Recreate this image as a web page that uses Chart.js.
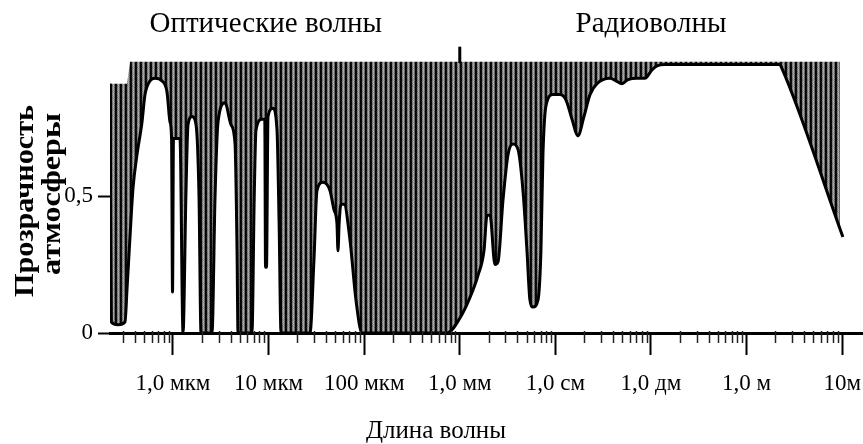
<!DOCTYPE html>
<html lang="ru">
<head>
<meta charset="utf-8">
<title>Прозрачность атмосферы</title>
<script src="https://cdn.jsdelivr.net/npm/chart.js@4.4.1/dist/chart.umd.min.js"></script>
<style>
  html, body { margin: 0; padding: 0; background: #fff; }
  #wrap { width: 863px; height: 444px; }
</style>
</head>
<body>
<div id="wrap"><canvas id="c" width="863" height="444"></canvas></div>
<script>
// Wavelength as log10(λ / 1 m): -6 = 1 мкм ... 1 = 10 м
const logWavelength = [
  -6.659, -6.645, -6.575, -6.502, -6.481, -6.450, -6.418, -6.377, -6.324, -6.293,
  -6.241, -6.188, -6.115, -6.063, -6.031, -6.015, -6.005, -5.995, -5.927, -5.895,
  -5.865, -5.843, -5.801, -5.759, -5.728, -5.707, -5.592, -5.560, -5.529, -5.456,
  -5.393, -5.351, -5.330, -5.320, -5.174, -5.150, -5.132, -5.069, -5.040, -5.032,
  -5.022, -5.006, -4.954, -4.912, -4.890, -4.870, -4.567, -4.525, -4.494, -4.431,
  -4.358, -4.316, -4.285, -4.274, -4.262, -4.243, -4.211, -4.149, -4.086, -4.023,
  -3.134, -2.998, -2.893, -2.810, -2.747, -2.715, -2.684, -2.632, -2.600, -2.548,
  -2.496, -2.444, -2.391, -2.339, -2.297, -2.266, -2.234, -2.182, -2.151, -2.130,
  -2.098, -2.025, -1.952, -1.889, -1.826, -1.764, -1.701, -1.638, -1.565, -1.429,
  -1.366, -1.303, -1.241, -1.146, -1.063, -0.990, -0.937, -0.854, 0.349, 0.362, 1.008
];
// Atmospheric transparency (0 … 1)
const transparency = [
  0.91, 0.04, 0.03, 0.04, 0.16, 0.35, 0.53, 0.65, 0.77, 0.87,
  0.92, 0.93, 0.92, 0.88, 0.77, 0.71, 0.15, 0.71, 0.71, 0.00,
  0.50, 0.76, 0.79, 0.76, 0.50, 0.00, 0.00, 0.50, 0.77, 0.84,
  0.76, 0.69, 0.30, 0.00, 0.00, 0.50, 0.74, 0.78, 0.78, 0.24,
  0.24, 0.79, 0.82, 0.74, 0.40, 0.00, 0.00, 0.27, 0.52, 0.55,
  0.52, 0.45, 0.40, 0.30, 0.40, 0.47, 0.47, 0.34, 0.12, 0.00,
  0.00, 0.055, 0.13, 0.21, 0.30, 0.43, 0.43, 0.25, 0.26, 0.485,
  0.65, 0.69, 0.67, 0.52, 0.30, 0.12, 0.095, 0.12, 0.30, 0.65,
  0.83, 0.87, 0.87, 0.85, 0.78, 0.72, 0.79, 0.87, 0.91, 0.93,
  0.92, 0.91, 0.925, 0.93, 0.93, 0.96, 0.975, 0.98, 0.98, 0.972, 0.35
];
// Upper edge of the hatched (absorption) band
const bandTopLog = [-6.659, -6.481, -6.450, 0.977];
const bandTopValue = [0.91, 0.91, 0.99, 0.99];

// Axis ticks
const xTickValues = [-6, -5, -4, -3, -2, -1, 0, 1];
const xTickLabels = ['1,0 мкм', '10 мкм', '100 мкм', '1,0 мм', '1,0 см', '1,0 дм', '1,0 м', '10м'];
const yTickValues = [0, 0.5];
const yTickLabels = ['0', '0,5'];

// Region captions
const regionLabels = ['Оптические волны', 'Радиоволны'];
const regionCenters = [-5.03, -1.0]; // in log10(λ) units
const xTitle = 'Длина волны';
const yTitle = ['Прозрачность', 'атмосферы'];

const SERIF = '"Liberation Serif", "Times New Roman", serif';

// vertical hatching pattern
function makeHatch() {
  const w = 5, h = 6;
  const c = document.createElement('canvas');
  c.width = w; c.height = h;
  const g = c.getContext('2d');
  const cols = [0, 10, 120, 165, 105];
  const speck = [
    [0, 0, 12, -10, 10, 0],
    [0, 6, -10, 18, -6, 8],
    [14, -18, 8, -6, 20, -12],
    [-16, 10, -22, 14, -8, 18],
    [8, -12, 16, -18, 6, -4]
  ];
  for (let x = 0; x < w; x++) {
    for (let y = 0; y < h; y++) {
      const v = Math.max(0, Math.min(255, cols[x] + speck[x][y]));
      g.fillStyle = `rgb(${v},${v},${v})`;
      g.fillRect(x, y, 1, 1);
    }
  }
  return g.createPattern(c, 'repeat');
}

const curvePoints = logWavelength.map((x, i) => ({ x, y: transparency[i] }));
const bandPoints = bandTopLog.map((x, i) => ({ x, y: bandTopValue[i] }));

// Minor log ticks, the optical/radio divider, captions and the rotated y title
const decorations = {
  id: 'decorations',
  afterDraw(chart) {
    const { ctx, scales: { x, y } } = chart;
    const base = y.getPixelForValue(0);
    ctx.save();
    // minor ticks 2..9 inside each decade
    ctx.strokeStyle = '#222';
    ctx.lineWidth = 1.5;
    for (let n = -7; n <= 1; n++) {
      for (let k = 2; k <= 9; k++) {
        const v = n + Math.log10(k);
        if (v < x.min || v > x.max) continue;
        const px = Math.round(x.getPixelForValue(v)) + 0.5;
        ctx.beginPath();
        ctx.moveTo(px, base - 2);
        ctx.lineTo(px, base + 10);
        ctx.stroke();
      }
    }
    // divider between optical and radio ranges at 1 мм
    const dx = x.getPixelForValue(-3);
    ctx.lineWidth = 3;
    ctx.strokeStyle = '#000';
    ctx.beginPath();
    ctx.moveTo(dx, y.getPixelForValue(1.045));
    ctx.lineTo(dx, y.getPixelForValue(0.985));
    ctx.stroke();

    ctx.fillStyle = '#000';
    ctx.font = `29px ${SERIF}`;
    ctx.textAlign = 'center';
    ctx.textBaseline = 'alphabetic';
    regionLabels.forEach((t, i) => {
      ctx.fillText(t, x.getPixelForValue(regionCenters[i]), 32);
    });

    ctx.font = `25px ${SERIF}`;
    ctx.fillText(xTitle, 436, 438);

    // rotated y title, each line stretched to its drawn length
    ctx.font = `bold 27px ${SERIF}`;
    const titlePos = [[33, 201, 192], [60, 194, 162]];
    yTitle.forEach((t, i) => {
      const [tx, ty, len] = titlePos[i];
      const k = len / ctx.measureText(t).width;
      ctx.save();
      ctx.translate(tx, ty);
      ctx.rotate(-Math.PI / 2);
      ctx.scale(k, 1);
      ctx.fillText(t, 0, 0);
      ctx.restore();
    });
    ctx.restore();
  }
};

new Chart(document.getElementById('c'), {
  type: 'line',
  data: {
    datasets: [
      {
        label: 'Прозрачность',
        data: curvePoints,
        borderColor: '#000',
        borderWidth: 3,
        pointRadius: 0,
        cubicInterpolationMode: 'monotone',
        fill: false,
        order: 0
      },
      {
        label: 'Поглощение',
        data: bandPoints,
        borderWidth: 0,
        borderColor: 'rgba(0,0,0,0)',
        pointRadius: 0,
        backgroundColor: makeHatch(),
        fill: 0,
        order: 1
      }
    ]
  },
  options: {
    responsive: false,
    animation: false,
    devicePixelRatio: 1,
    layout: { padding: { top: 59, right: 0, left: 0, bottom: 0 } },
    plugins: { legend: { display: false }, tooltip: { enabled: false }, title: { display: false } },
    scales: {
      x: {
        type: 'linear',
        min: -6.659,
        max: 1.218,
        afterFit(s) { s.height = 111; s.paddingLeft = 0; s.paddingRight = 0; },
        afterBuildTicks(s) { s.ticks = xTickValues.map(v => ({ value: v })); },
        grid: { drawOnChartArea: false, tickLength: 22, tickWidth: 2, tickColor: '#000' },
        border: { display: true, color: '#000', width: 3 },
        ticks: {
          color: '#000',
          padding: 15,
          maxRotation: 0,
          autoSkip: false,
          font: { family: SERIF, size: 23 },
          callback: (v) => xTickLabels[xTickValues.indexOf(v)]
        }
      },
      y: {
        type: 'linear',
        min: 0,
        max: 1,
        afterFit(s) { s.width = 110; },
        afterBuildTicks(s) { s.ticks = yTickValues.map(v => ({ value: v })); },
        grid: { drawOnChartArea: false, tickLength: 12, tickWidth: 2, tickColor: '#000' },
        border: { display: false },
        ticks: {
          color: '#000',
          padding: 5,
          font: { family: SERIF, size: 23 },
          callback: (v) => yTickLabels[yTickValues.indexOf(v)]
        }
      }
    }
  },
  plugins: [decorations]
});
</script>
</body>
</html>
